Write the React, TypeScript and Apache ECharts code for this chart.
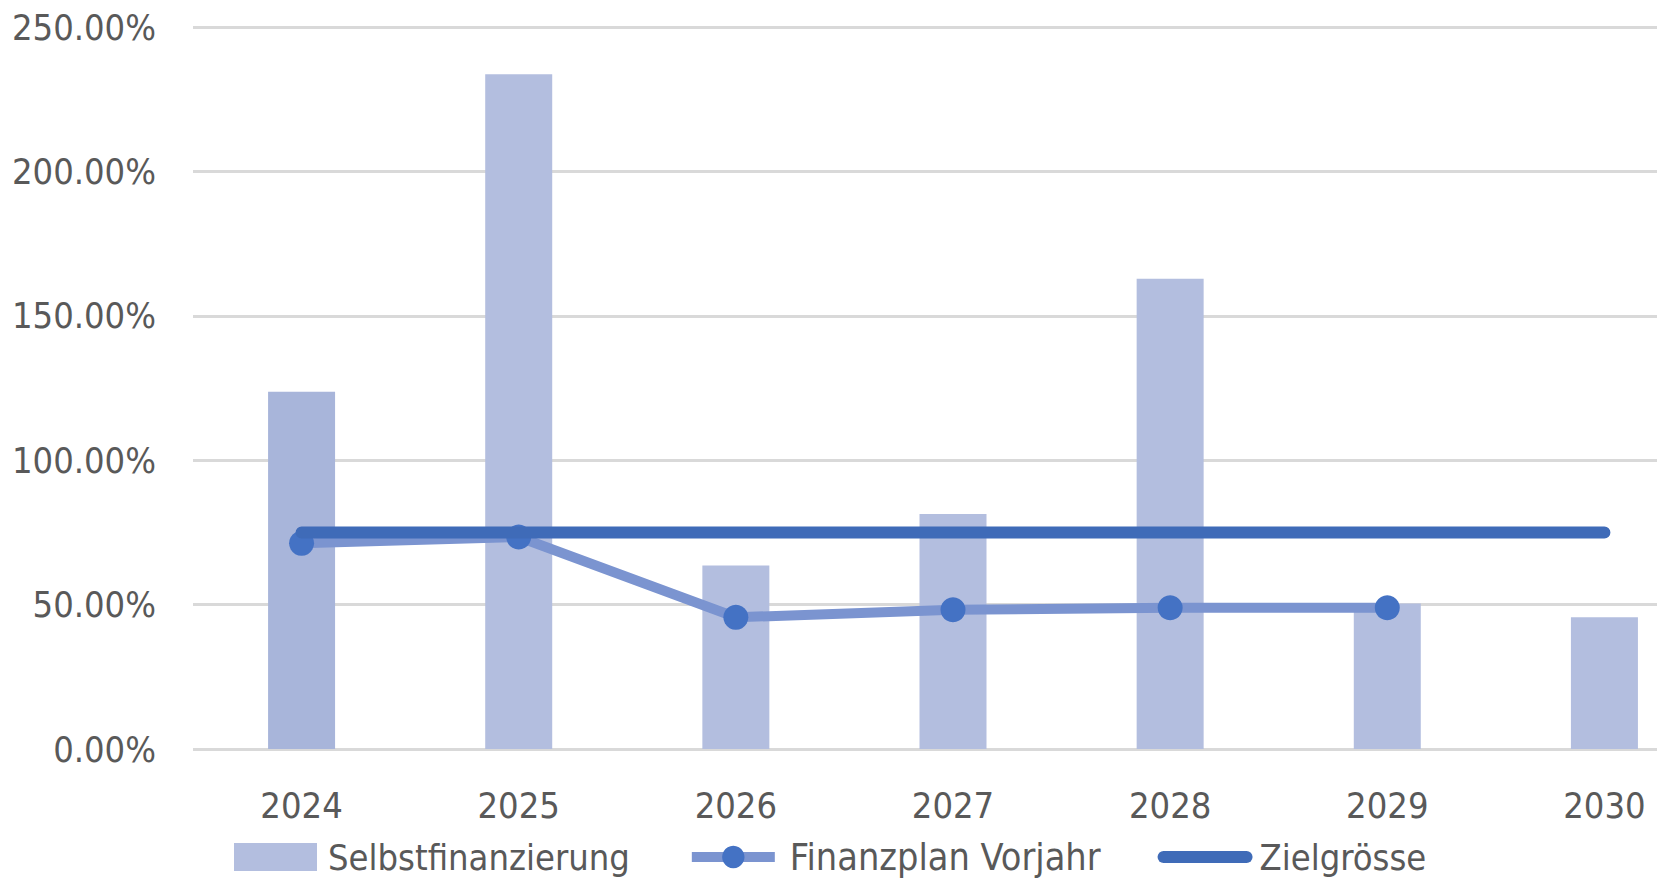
import React, { useEffect, useRef } from "react";
import * as echarts from "echarts";

const years = ["2024", "2025", "2026", "2027", "2028", "2029", "2030"];
const selbstfinanzierung = [123.7, 233.6, 63.5, 81.4, 162.8, 50.4, 45.6];
const finanzplanVorjahr = [71.2, 73.4, 45.6, 48.2, 48.9, 48.9, null];
const zielgroesse = [75, 75, 75, 75, 75, 75, 75];
const yMin = 0;
const yMax = 250;
const yInterval = 50;

const FONT = "'Liberation Sans Narrow', 'DejaVu Sans Condensed', 'Open Sans', sans-serif";
const TEXT = "#595959";

export default function App() {
  const ref = useRef<HTMLDivElement>(null);
  useEffect(() => {
    if (!ref.current) return;
    const chart = echarts.init(ref.current, undefined, { renderer: "svg" });
    chart.setOption({
      animation: false,
      backgroundColor: "#ffffff",
      textStyle: { fontFamily: FONT },
      grid: { left: 193, top: 27, width: 1520, bottom: 132, outerBoundsMode: "none", containLabel: false },
      legend: {
        left: 234,
        top: 838,
        padding: 0,
        itemWidth: 83,
        itemHeight: 28,
        itemGap: 57,
        textStyle: { fontFamily: FONT, fontSize: 36, color: TEXT, padding: [0, 0, 0, 6] },
        data: [
          { name: "Selbstfinanzierung", icon: "rect" },
          {
            name: "Finanzplan Vorjahr",
            lineStyle: { color: "#7B94D0", width: 10 },
            itemStyle: { color: "#4472C4" },
            textStyle: { fontFamily: FONT, fontSize: 37.5, color: TEXT, padding: [0, 0, 0, 10] },
          },
          {
            name: "Zielgrösse",
            lineStyle: { color: "#3F6BB8", width: 12, cap: "round" },
            itemStyle: { color: "#3F6BB8", opacity: 0 },
            textStyle: { fontFamily: FONT, fontSize: 36, color: TEXT, padding: [0, 0, 0, 8] },
          },
        ],
      },
      xAxis: {
        type: "category",
        data: years,
        axisLine: { show: false },
        axisTick: { show: false },
        axisLabel: { color: TEXT, fontSize: 36, fontFamily: FONT, margin: 38 },
      },
      yAxis: {
        type: "value",
        min: yMin,
        max: yMax,
        interval: yInterval,
        axisLine: { show: false },
        axisTick: { show: false },
        splitLine: { lineStyle: { color: "#D9D9D9", width: 3 } },
        axisLabel: {
          color: TEXT,
          fontSize: 36,
          fontFamily: FONT,
          margin: 37,
          formatter: (v: number) => v.toFixed(2) + "%",
        },
      },
      series: [
        {
          name: "Selbstfinanzierung",
          type: "bar",
          barWidth: 67,
          itemStyle: { color: "#B3BEDF" },
          data: selbstfinanzierung.map((v, i) =>
            i === 0 ? { value: v, itemStyle: { color: "#A8B5DA" } } : v
          ),
        },
        {
          name: "Finanzplan Vorjahr",
          type: "line",
          data: finanzplanVorjahr,
          symbol: "circle",
          symbolSize: 25,
          lineStyle: { color: "#7B94D0", width: 10 },
          itemStyle: { color: "#4472C4" },
          z: 3,
        },
        {
          name: "Zielgrösse",
          type: "line",
          data: zielgroesse,
          symbol: "none",
          showSymbol: false,
          lineStyle: { color: "#3F6BB8", width: 12, cap: "round" },
          itemStyle: { color: "#3F6BB8" },
          z: 4,
        },
      ],
    });
    return () => chart.dispose();
  }, []);
  return (
    <div
      ref={ref}
      style={{ position: "fixed", left: 0, top: 0, width: 1657, height: 881 }}
    />
  );
}
